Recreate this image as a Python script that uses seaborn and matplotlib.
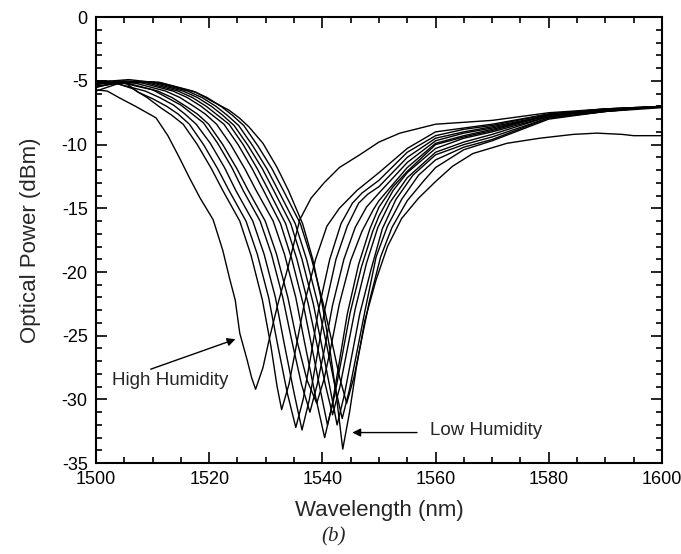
import matplotlib
matplotlib.use("Agg")
import matplotlib.pyplot as plt
from matplotlib.ticker import MultipleLocator
import pandas as pd
import seaborn as sns

# transmission spectra, high humidity (c1) -> low humidity (c13)
c1_wl = [1500, 1502, 1504, 1507, 1510.6, 1512.7, 1514.7, 1516.5, 1518.4, 1520.7, 1522.4, 1523.6,
         1524.6, 1525.4, 1526.7, 1527.5, 1528.2, 1529.5, 1530.7, 1532.2, 1534, 1536, 1538, 1540.3,
         1543, 1546.6, 1550, 1553.7, 1560, 1570, 1580, 1590, 1600]
c1_p = [-5.7, -5.8, -6.3, -7.0, -7.9, -9.3, -11.0, -12.6, -14.2, -15.9, -18.3, -20.5,
        -22.2, -24.8, -26.9, -28.3, -29.2, -27.5, -25.1, -22.4, -19.5, -15.9, -14.2, -13.0,
        -11.8, -10.8, -9.8, -9.1, -8.4, -8.1, -7.5, -7.2, -7.0]

c2_wl = [1500, 1503, 1506.4, 1509, 1511.4, 1513.4, 1515.4, 1517.9, 1520.4, 1522.4, 1525.4, 1527.4,
         1529.4, 1530.9, 1532.0, 1532.8, 1534.1, 1535.3, 1536.8, 1538.8, 1540.8, 1543, 1546.1,
         1550, 1555, 1560, 1565, 1570, 1580, 1590, 1600]
c2_p = [-5.2, -5.1, -5.6, -6.3, -7.1, -7.7, -8.4, -10.0, -11.9, -13.6, -16.0, -18.7,
        -22.2, -25.8, -29.0, -30.8, -28.8, -26.0, -22.5, -19.0, -16.4, -15.0, -13.6,
        -12.2, -10.3, -9.0, -8.7, -8.4, -7.6, -7.2, -7.0]

c3_wl = [1500, 1505, 1507.5, 1510, 1512.5, 1514.5, 1516.5, 1519, 1521.5, 1523.5, 1526.5, 1528.5,
         1530.5, 1532, 1533.8, 1535.3, 1536.6, 1537.8, 1539.3, 1541.3, 1543.3, 1545.3, 1547,
         1550, 1555, 1560, 1565, 1570, 1580, 1590, 1600]
c3_p = [-5.0, -5.1, -5.9, -6.4, -7.0, -7.6, -8.4, -10.0, -11.9, -13.6, -16.0, -18.6,
        -22.0, -25.5, -29.5, -32.2, -30.0, -27.0, -23.0, -19.0, -16.2, -14.6, -13.8,
        -12.8, -10.6, -9.3, -8.8, -8.5, -7.6, -7.2, -7.0]

c4_wl = [1500, 1502.7, 1508.7, 1511.2, 1513.7, 1515.7, 1517.7, 1520.2, 1522.7, 1524.7, 1527.7,
         1529.7, 1531.7, 1533.2, 1535, 1536.4, 1537.7, 1538.9, 1540.4, 1542.4, 1544.4, 1546.4,
         1548, 1550, 1555, 1560, 1565, 1570, 1580, 1590, 1600]
c4_p = [-5.1, -5.1, -5.8, -6.3, -6.9, -7.6, -8.4, -9.9, -11.8, -13.6, -16.0,
        -18.6, -22.0, -25.5, -29.5, -32.4, -30.0, -27.0, -23.0, -19.0, -16.4, -14.6,
        -13.9, -13.3, -11.0, -9.5, -9.0, -8.6, -7.7, -7.3, -7.0]

c5_wl = [1500, 1504, 1510, 1512.5, 1515, 1517, 1519, 1521.5, 1524, 1526, 1529, 1531, 1533,
         1534.5, 1536.3, 1537.8, 1539.1, 1540.3, 1541.8, 1543.8, 1545.8, 1547.8, 1550, 1555,
         1560, 1565, 1570, 1580, 1590, 1600]
c5_p = [-5.5, -5.1, -5.7, -6.3, -6.9, -7.6, -8.3, -9.9, -11.8, -13.6, -16.0, -18.6, -22.0,
        -25.2, -28.8, -31.0, -28.8, -26.2, -22.6, -19.0, -16.5, -14.9, -13.8, -11.4,
        -9.7, -9.1, -8.7, -7.7, -7.3, -7.0]

c6_wl = [1500, 1504.9, 1510.9, 1513.4, 1515.9, 1517.9, 1519.9, 1522.4, 1524.9, 1526.9, 1529.9,
         1531.9, 1533.9, 1535.4, 1537.3, 1539.0, 1540.3, 1541.5, 1543, 1545, 1547, 1549, 1550,
         1555, 1560, 1565, 1570, 1580, 1590, 1600]
c6_p = [-5.1, -5.1, -5.8, -6.3, -7.0, -7.6, -8.4, -10.0, -11.9, -13.6, -16.0,
        -18.6, -22.0, -25.2, -28.5, -30.3, -28.4, -25.9, -22.5, -19.1, -16.8, -15.1, -14.4,
        -11.8, -9.9, -9.3, -8.8, -7.7, -7.3, -7.0]

c7_wl = [1500, 1506.3, 1512.3, 1514.8, 1517.3, 1519.3, 1521.3, 1523.8, 1526.3, 1528.3, 1531.3,
         1533.3, 1535.3, 1536.8, 1538.8, 1540.4, 1541.7, 1542.9, 1544.4, 1546.4, 1548.4, 1550,
         1552.5, 1555, 1560, 1565, 1570, 1580, 1590, 1600]
c7_p = [-5.4, -5.1, -5.8, -6.3, -7.0, -7.6, -8.4, -10.0, -11.9, -13.6, -16.0,
        -18.6, -22.0, -25.4, -29.8, -33.0, -30.5, -27.3, -23.3, -19.4, -16.6, -14.9,
        -13.3, -12.1, -10.0, -9.4, -8.9, -7.7, -7.3, -7.0]

c8_wl = [1500, 1507.6, 1513.6, 1516.1, 1518.6, 1520.6, 1522.6, 1525.1, 1527.6, 1529.6, 1532.6,
         1534.6, 1536.6, 1538.1, 1539.6, 1540.9, 1542.2, 1543.4, 1544.9, 1546.9, 1548.9, 1550,
         1552.5, 1555, 1560, 1565, 1570, 1580, 1590, 1600]
c8_p = [-5.0, -5.1, -5.8, -6.3, -7.0, -7.7, -8.4, -10.0, -11.9, -13.6, -16.2,
        -19.0, -22.5, -25.8, -29.2, -32.0, -29.6, -26.8, -23.2, -19.6, -16.8, -15.6,
        -13.6, -12.2, -10.3, -9.5, -9.0, -7.8, -7.3, -7.0]

c9_wl = [1500, 1504, 1508.5, 1514.5, 1517, 1519.5, 1521.5, 1523.5, 1526, 1528.5, 1530.5, 1533.5,
         1535.5, 1537.5, 1539, 1540.5, 1541.8, 1543.1, 1544.3, 1545.8, 1547.8, 1549.8, 1552,
         1555, 1560, 1565, 1570, 1580, 1590, 1600]
c9_p = [-5.5, -5.1, -5.1, -5.8, -6.3, -7.0, -7.7, -8.4, -10.0, -11.9, -13.6, -16.2,
        -19.0, -22.5, -25.6, -28.8, -31.2, -29.0, -26.3, -22.9, -19.3, -16.5, -14.5,
        -12.6, -10.6, -9.8, -9.2, -7.8, -7.3, -7.0]

c10_wl = [1500, 1509.4, 1515.4, 1517.9, 1520.4, 1522.4, 1524.4, 1526.9, 1529.4, 1531.4, 1534.4,
          1536.4, 1538.4, 1539.9, 1541.3, 1542.6, 1543.9, 1545.1, 1546.6, 1548.6, 1550.6, 1553,
          1556, 1560, 1565, 1570, 1580, 1590, 1600]
c10_p = [-5.2, -5.1, -5.8, -6.3, -7.0, -7.7, -8.5, -10.1, -11.9, -13.6, -16.2,
         -19.0, -22.5, -25.8, -29.0, -32.0, -29.6, -26.8, -23.3, -19.8, -16.6, -14.3,
         -12.4, -10.8, -10.0, -9.4, -7.9, -7.4, -7.0]

c11_wl = [1500, 1504, 1510.2, 1516.2, 1518.7, 1521.2, 1523.2, 1525.2, 1527.7, 1530.2, 1532.2,
          1535.2, 1537.2, 1539.2, 1540.7, 1542.2, 1543.5, 1544.8, 1546, 1547.5, 1549.5, 1551.5,
          1554, 1557, 1560, 1565, 1570, 1580, 1590, 1600]
c11_p = [-5.8, -5.2, -5.1, -5.8, -6.3, -7.0, -7.7, -8.5, -10.1, -11.9, -13.6,
         -16.2, -19.0, -22.5, -25.6, -28.9, -31.5, -29.2, -26.5, -23.1, -18.8, -16.4,
         -14.3, -12.4, -11.2, -10.2, -9.6, -7.9, -7.4, -7.0]

c12_wl = [1500, 1505, 1511.1, 1517.1, 1519.6, 1522.1, 1524.1, 1526.1, 1528.6, 1531.1, 1533.1,
          1536.1, 1538.1, 1540.1, 1541.6, 1543, 1544.3, 1545.6, 1546.8, 1548.3, 1550.3, 1552.3,
          1555, 1558, 1560, 1565, 1570, 1580, 1590, 1600]
c12_p = [-5.3, -5.0, -5.1, -5.8, -6.3, -7.0, -7.7, -8.5, -10.1, -11.9, -13.6,
         -16.2, -19.0, -22.4, -25.3, -28.2, -30.3, -28.2, -25.6, -22.3, -18.8, -16.5,
         -14.4, -12.8, -11.8, -10.4, -9.7, -8.0, -7.4, -7.1]

c13_wl = [1500, 1505.8, 1511.8, 1517.7, 1520.5, 1523.5, 1525.3, 1527, 1529.5, 1532, 1534, 1536.5,
          1538.3, 1540, 1541.3, 1542.5, 1543.6, 1544.8, 1546, 1547.5, 1549.5, 1551.5, 1554, 1557,
          1560, 1563, 1566.6, 1572.6, 1578.4, 1584.3, 1588.5, 1593, 1595, 1600]
c13_p = [-5.1, -4.9, -5.2, -5.9, -6.6, -7.3, -7.9, -8.6, -9.9, -11.8, -13.6, -16.2,
         -19.0, -22.6, -26.0, -29.8, -33.9, -31.0, -27.5, -23.8, -20.6, -18.0, -15.8, -14.2,
         -12.9, -11.7, -10.7, -9.9, -9.5, -9.2, -9.1, -9.2, -9.3, -9.3]

curves = [(c1_wl, c1_p), (c2_wl, c2_p), (c3_wl, c3_p), (c4_wl, c4_p), (c5_wl, c5_p),
          (c6_wl, c6_p), (c7_wl, c7_p), (c8_wl, c8_p), (c9_wl, c9_p), (c10_wl, c10_p),
          (c11_wl, c11_p), (c12_wl, c12_p), (c13_wl, c13_p)]

rows = []
for i, (wl, p) in enumerate(curves):
    for w, v in zip(wl, p):
        rows.append({'curve': i, 'wavelength': w, 'power': v})
df = pd.DataFrame(rows)

sns.set_style('ticks')
plt.rcParams['font.family'] = ['Liberation Sans', 'DejaVu Sans']
plt.rcParams['axes.unicode_minus'] = False

fig = plt.figure(figsize=(6.81, 5.54), dpi=100)
ax = fig.add_axes([0.141, 0.164, 0.831, 0.805])

sns.lineplot(data=df, x='wavelength', y='power', units='curve', estimator=None,
             color='black', linewidth=1.0, ax=ax)

ax.set_xlim(1500, 1600)
ax.set_ylim(-35, 0)
ax.xaxis.set_major_locator(MultipleLocator(20))
ax.xaxis.set_minor_locator(MultipleLocator(5))
ax.yaxis.set_major_locator(MultipleLocator(5))
ax.yaxis.set_minor_locator(MultipleLocator(1))
ax.tick_params(which='both', direction='in', top=True, right=True, width=1.2, colors='black')
ax.tick_params(which='major', length=8, labelsize=13)
ax.tick_params(axis='x', which='major', pad=6)
ax.tick_params(axis='y', which='major', pad=6)
ax.tick_params(which='minor', length=4)
for s in ax.spines.values():
    s.set_linewidth(1.5)
    s.set_color('black')

ax.set_xlabel('Wavelength (nm)', fontsize=16, labelpad=8)
ax.set_ylabel('Optical Power (dBm)', fontsize=16, labelpad=15)

# annotations
ax.annotate('', xy=(1525.1, -25.2), xytext=(1509.2, -27.7),
            arrowprops=dict(arrowstyle='-|>', color='black', lw=1.0, mutation_scale=12))
ax.text(1502.8, -28.5, 'High Humidity', fontsize=13.5, va='center', ha='left')
ax.annotate('', xy=(1544.8, -32.6), xytext=(1557.2, -32.6),
            arrowprops=dict(arrowstyle='-|>', color='black', lw=1.0, mutation_scale=12))
ax.text(1559.0, -32.4, 'Low Humidity', fontsize=13.5, va='center', ha='left')

fig.text(0.49, 0.031, '(b)', fontsize=15, ha='center', va='center',
         family='Liberation Serif', style='italic')

fig.savefig('out.png', dpi=100)
